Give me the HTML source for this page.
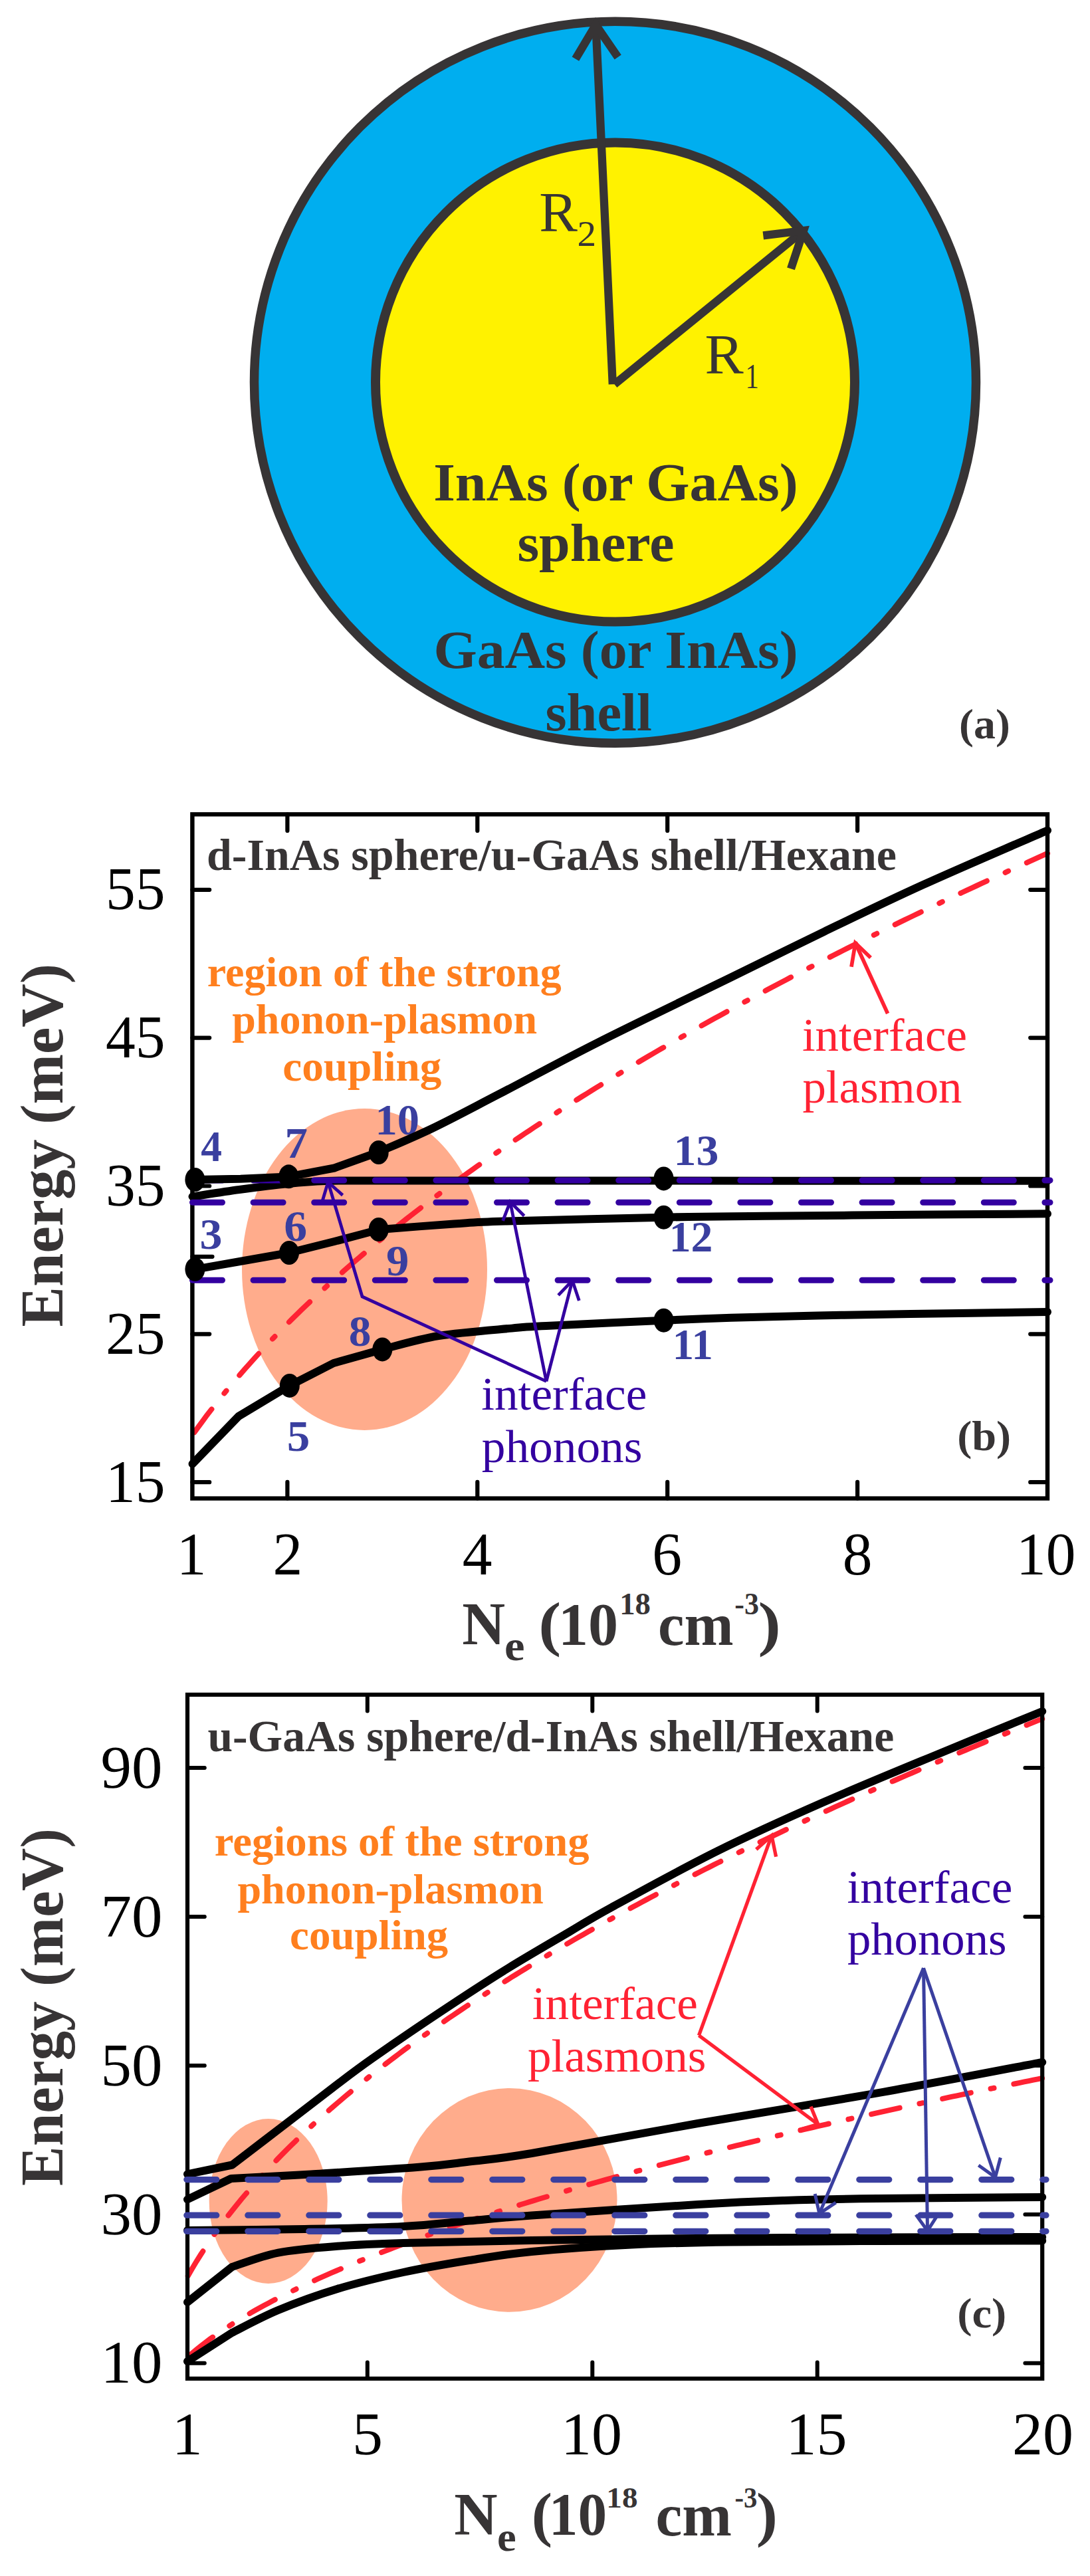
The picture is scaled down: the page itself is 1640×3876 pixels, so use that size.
<!DOCTYPE html>
<html lang="en"><head><meta charset="utf-8"><title>Core-shell nanoparticle: phonon-plasmon coupling</title>
<style>html,body{margin:0;padding:0;background:#fff}body{width:1640px;height:3876px;overflow:hidden}svg{display:block;font-family:'Liberation Serif', 'Times New Roman', serif}</style></head><body>
<svg width="1640" height="3876" viewBox="0 0 1640 3876">
<rect width="1640" height="3876" fill="#fff"/>
<g id="panel-a">
<circle cx="925.5" cy="575.3" r="543" fill="#00AEEF" stroke="#373435" stroke-width="13.5"/>
<circle cx="925.5" cy="575" r="360.5" fill="#FFF200" stroke="#373435" stroke-width="14"/>
<path d="M896.4 36 L921.8 578.3 M924.5 578.2 L1208 347.7" fill="none" stroke="#373435" stroke-width="12.3"/>
<path d="M865.9 88.7 L896.4 37.5 L929.7 86" fill="none" stroke="#373435" stroke-width="12.3" stroke-linejoin="miter" stroke-miterlimit="10"/>
<path d="M1148.3 354.3 L1209 347 L1190 404.4" fill="none" stroke="#373435" stroke-width="12.3" stroke-linejoin="miter" stroke-miterlimit="10"/>
<text fill="#373435" font-weight="normal"><tspan x="811.2" y="348.3" font-size="84" textLength="57.6" lengthAdjust="spacingAndGlyphs">R</tspan><tspan x="868.6" y="369.6" font-size="54" textLength="28.6" lengthAdjust="spacingAndGlyphs">2</tspan></text>
<text fill="#373435" font-weight="normal"><tspan x="1060.6" y="562.4" font-size="84" textLength="58.2" lengthAdjust="spacingAndGlyphs">R</tspan><tspan x="1121.6" y="584" font-size="53" textLength="20.3" lengthAdjust="spacingAndGlyphs">1</tspan></text>
<text transform="translate(652.2 753) scale(1.0358 1)" font-size="81" fill="#373435" font-weight="bold">InAs (or GaAs)</text>
<text transform="translate(778.4 844.3) scale(1.0358 1)" font-size="81" fill="#373435" font-weight="bold">sphere</text>
<text transform="translate(652.4 1005) scale(1.0354 1)" font-size="81" fill="#373435" font-weight="bold">GaAs (or InAs)</text>
<text transform="translate(820.5 1098.5) scale(1.0179 1)" font-size="81" fill="#373435" font-weight="bold">shell</text>
<text transform="translate(1443.1 1111) scale(1.0441 1)" font-size="63" fill="#373435" font-weight="bold">(a)</text>
</g>
<g id="panel-b">
<ellipse cx="548.5" cy="1910" rx="184.5" ry="242" fill="#FFAC8C"/>
<path d="M289.4 2159.6 L296.5 2149.6 L303.7 2139.8 L310.8 2130.2 L318 2120.9 L325.1 2111.8 L332.3 2102.8 L339.4 2094 L346.6 2085.4 L353.7 2076.9 L360.9 2068.6 L368 2060.4 L375.2 2052.3 L382.3 2044.3 L389.5 2036.5 L396.6 2028.8 L403.8 2021.2 L410.9 2013.7 L418.1 2006.3 L425.2 1999 L432.4 1991.8 L439.5 1984.7 L446.7 1977.7 L453.8 1970.7 L460.9 1963.9 L468.1 1957.1 L475.2 1950.4 L482.4 1943.7 L489.5 1937.2 L496.7 1930.7 L503.8 1924.2 L511 1917.9 L518.1 1911.6 L525.3 1905.3 L532.4 1899.1 L539.6 1893 L546.7 1886.9 L553.9 1880.9 L561 1874.9 L568.2 1869 L575.3 1863.1 L582.5 1857.3 L589.6 1851.5 L596.8 1845.8 L603.9 1840.1 L611 1834.5 L618.2 1828.9 L625.3 1823.4 L632.5 1817.8 L639.6 1812.4 L646.8 1806.9 L653.9 1801.6 L661.1 1796.2 L668.2 1790.9 L675.4 1785.6 L682.5 1780.4 L689.7 1775.1 L696.8 1770 L704 1764.8 L711.1 1759.7 L718.3 1754.6 L725.4 1749.6 L732.6 1744.6 L739.7 1739.6 L746.9 1734.6 L754 1729.7 L761.2 1724.8 L768.3 1720 L775.4 1715.1 L782.6 1710.3 L789.7 1705.5 L796.9 1700.8 L804 1696 L811.2 1691.3 L818.3 1686.6 L825.5 1682 L832.6 1677.3 L839.8 1672.7 L846.9 1668.1 L854.1 1663.6 L861.2 1659 L868.4 1654.5 L875.5 1650 L882.7 1645.6 L889.8 1641.1 L897 1636.7 L904.1 1632.3 L911.3 1627.9 L918.4 1623.5 L925.6 1619.2 L932.7 1614.9 L939.8 1610.6 L947 1606.3 L954.1 1602 L961.3 1597.7 L968.4 1593.5 L975.6 1589.3 L982.7 1585.1 L989.9 1580.9 L997 1576.8 L1004.2 1572.6 L1011.3 1568.5 L1018.5 1564.4 L1025.6 1560.3 L1032.8 1556.2 L1039.9 1552.2 L1047.1 1548.1 L1054.2 1544.1 L1061.4 1540.1 L1068.5 1536.1 L1075.7 1532.1 L1082.8 1528.2 L1090 1524.2 L1097.1 1520.3 L1104.2 1516.4 L1111.4 1512.5 L1118.5 1508.6 L1125.7 1504.7 L1132.8 1500.8 L1140 1497 L1147.1 1493.2 L1154.3 1489.3 L1161.4 1485.5 L1168.6 1481.7 L1175.7 1478 L1182.9 1474.2 L1190 1470.4 L1197.2 1466.7 L1204.3 1463 L1211.5 1459.3 L1218.6 1455.6 L1225.8 1451.9 L1232.9 1448.2 L1240.1 1444.5 L1247.2 1440.9 L1254.3 1437.2 L1261.5 1433.6 L1268.6 1430 L1275.8 1426.4 L1282.9 1422.8 L1290.1 1419.2 L1297.2 1415.6 L1304.4 1412.1 L1311.5 1408.5 L1318.7 1405 L1325.8 1401.4 L1333 1397.9 L1340.1 1394.4 L1347.3 1390.9 L1354.4 1387.4 L1361.6 1383.9 L1368.7 1380.5 L1375.9 1377 L1383 1373.6 L1390.2 1370.1 L1397.3 1366.7 L1404.5 1363.3 L1411.6 1359.9 L1418.7 1356.5 L1425.9 1353.1 L1433 1349.7 L1440.2 1346.4 L1447.3 1343 L1454.5 1339.6 L1461.6 1336.3 L1468.8 1333 L1475.9 1329.6 L1483.1 1326.3 L1490.2 1323 L1497.4 1319.7 L1504.5 1316.4 L1511.7 1313.2 L1518.8 1309.9 L1526 1306.6 L1533.1 1303.4 L1540.3 1300.1 L1547.4 1296.9 L1554.6 1293.7 L1561.7 1290.4 L1568.9 1287.2 L1576 1284" fill="none" stroke="#FF2233" stroke-width="8" stroke-linecap="round" stroke-dasharray="43.5 30.5 5 30.5" stroke-dashoffset="104.2"/>
<text transform="translate(302.3 1747.4) scale(0.977 1)" font-size="65" fill="#3A3F9F" font-weight="bold">4</text>
<text transform="translate(428.4 1742) scale(1.0606 1)" font-size="65" fill="#3A3F9F" font-weight="bold">7</text>
<text transform="translate(564.6 1707) scale(1.0236 1)" font-size="65" fill="#3A3F9F" font-weight="bold">10</text>
<text transform="translate(300.4 1878.7) scale(1.045 1)" font-size="65" fill="#3A3F9F" font-weight="bold">3</text>
<text transform="translate(427.3 1867) scale(1.0726 1)" font-size="65" fill="#3A3F9F" font-weight="bold">6</text>
<text transform="translate(581.1 1919) scale(1.0596 1)" font-size="65" fill="#3A3F9F" font-weight="bold">9</text>
<text transform="translate(524.7 2024.9) scale(1.0357 1)" font-size="65" fill="#3A3F9F" font-weight="bold">8</text>
<text transform="translate(431.7 2182.6) scale(1.0631 1)" font-size="65" fill="#3A3F9F" font-weight="bold">5</text>
<text transform="translate(1013.5 1752.8) scale(1.0435 1)" font-size="65" fill="#3A3F9F" font-weight="bold">13</text>
<text transform="translate(1006.7 1882.6) scale(1.0123 1)" font-size="65" fill="#3A3F9F" font-weight="bold">12</text>
<text transform="translate(1011.8 2045) scale(0.9943 1)" font-size="65" fill="#3A3F9F" font-weight="bold">11</text>
<rect x="289.4" y="1225.3" width="1286.6" height="1029.3" fill="none" stroke="#000" stroke-width="6.4"/>
<path d="M432.4 1225.3 V1250 M432.4 2254.6 V2229.9 M718.3 1225.3 V1250 M718.3 2254.6 V2229.9 M1004.2 1225.3 V1250 M1004.2 2254.6 V2229.9 M1290.1 1225.3 V1250 M1290.1 2254.6 V2229.9 M289.4 1338.8 H315.2 M1576 1338.8 H1550.2 M289.4 1561.6 H315.2 M1576 1561.6 H1550.2 M289.4 1784.5 H315.2 M1576 1784.5 H1550.2 M289.4 2007.3 H315.2 M1576 2007.3 H1550.2 M289.4 2230.2 H315.2 M1576 2230.2 H1550.2 M289.4 1890.8 H319.5" fill="none" stroke="#000" stroke-width="6.2" stroke-linecap="round"/>
<path d="M289.5 1800.5 C301.2 1798.8 335.9 1793.2 360 1790 C384.1 1786.8 412.3 1783.2 434 1781 C455.7 1778.8 467.5 1777.8 490 1777 C512.5 1776.2 517.3 1776.6 569 1776.5 C620.7 1776.4 632.2 1776.5 800 1776.5 C967.8 1776.5 1446.7 1776.8 1576 1776.8" fill="none" stroke="#000" stroke-width="12" stroke-linecap="round" stroke-linejoin="round"/>
<path d="M289.5 1776 H1580" fill="none" stroke="#3300A0" stroke-width="9" stroke-linecap="round" stroke-dasharray="45 46.6"/>
<path d="M289.5 1809.2 H1580" fill="none" stroke="#3300A0" stroke-width="9" stroke-linecap="round" stroke-dasharray="45 46.6"/>
<path d="M289.5 1926.3 H1580" fill="none" stroke="#3300A0" stroke-width="9" stroke-linecap="round" stroke-dasharray="45 46.6"/>
<path d="M293 1775 L362 1773.8 L434.3 1770.5 L503 1757.5 L569.6 1733.5 C583 1727.6 619.9 1712.5 650 1698 C680.1 1683.5 708.3 1668.3 750 1646.7 C791.7 1625.1 841.7 1597.7 900 1568.3 C958.3 1538.9 1043.3 1498.2 1100 1470.5 C1156.7 1442.8 1191.7 1425.1 1240 1401.8 C1288.3 1378.5 1334 1356.2 1390 1330.8 C1446 1305.4 1545 1263 1576 1249.5" fill="none" stroke="#000" stroke-width="12" stroke-linecap="round" stroke-linejoin="round"/>
<path d="M293.4 1909.8 L364 1897.5 L435 1885 L503 1868 L571 1850 C589.7 1848.6 651.5 1843.6 683 1841.5 C714.5 1839.4 707.4 1839.1 760 1837.5 C812.6 1835.9 933.6 1833 998.6 1831.7 C1063.6 1830.4 1088.1 1830.5 1150 1829.8 C1211.9 1829.1 1299 1828.4 1370 1827.8 C1441 1827.2 1541.7 1826.5 1576 1826.3" fill="none" stroke="#000" stroke-width="12" stroke-linecap="round" stroke-linejoin="round"/>
<path d="M289.5 2202.7 L359 2131 L435.8 2084.9 L502 2051 L575.3 2030.4 C589.4 2027 627.5 2015.3 660 2010 C692.5 2004.7 743 2001.1 770 1998.6 C797 1996.1 783.9 1997 822 1995 C860.1 1993 952.3 1988.7 998.6 1986.7 C1044.9 1984.7 1061.4 1984 1100 1982.8 C1138.6 1981.6 1185 1980.5 1230 1979.5 C1275 1978.5 1312.3 1977.9 1370 1977 C1427.7 1976.1 1541.7 1974.5 1576 1974" fill="none" stroke="#000" stroke-width="12" stroke-linecap="round" stroke-linejoin="round"/>
<ellipse cx="293.4" cy="1775" rx="15" ry="18" fill="#000"/>
<ellipse cx="434.3" cy="1770.3" rx="15" ry="18" fill="#000"/>
<ellipse cx="569.7" cy="1734" rx="15" ry="18" fill="#000"/>
<ellipse cx="293.4" cy="1909.8" rx="15" ry="18" fill="#000"/>
<ellipse cx="435" cy="1885" rx="15" ry="18" fill="#000"/>
<ellipse cx="569.7" cy="1850" rx="15" ry="18" fill="#000"/>
<ellipse cx="435.8" cy="2084.9" rx="15" ry="18" fill="#000"/>
<ellipse cx="575.3" cy="2030.4" rx="15" ry="18" fill="#000"/>
<ellipse cx="998.6" cy="1773.4" rx="15" ry="18" fill="#000"/>
<ellipse cx="998.6" cy="1831.7" rx="15" ry="18" fill="#000"/>
<ellipse cx="998.6" cy="1986.7" rx="15" ry="18" fill="#000"/>
<text transform="translate(158.9 1368.3) scale(0.973 1)" font-size="92" fill="#000" font-weight="normal">55</text>
<text transform="translate(158.9 1591.1) scale(0.973 1)" font-size="92" fill="#000" font-weight="normal">45</text>
<text transform="translate(158.9 1814) scale(0.973 1)" font-size="92" fill="#000" font-weight="normal">35</text>
<text transform="translate(158.9 2036.8) scale(0.973 1)" font-size="92" fill="#000" font-weight="normal">25</text>
<text transform="translate(158.9 2259.7) scale(0.973 1)" font-size="92" fill="#000" font-weight="normal">15</text>
<text transform="translate(265.8 2369) scale(0.973 1)" font-size="92" fill="#000" font-weight="normal">1</text>
<text transform="translate(410.5 2369) scale(0.973 1)" font-size="92" fill="#000" font-weight="normal">2</text>
<text transform="translate(695.8 2369) scale(0.973 1)" font-size="92" fill="#000" font-weight="normal">4</text>
<text transform="translate(981.2 2369) scale(0.973 1)" font-size="92" fill="#000" font-weight="normal">6</text>
<text transform="translate(1267.7 2369) scale(0.973 1)" font-size="92" fill="#000" font-weight="normal">8</text>
<text transform="translate(1529.1 2369) scale(0.973 1)" font-size="92" fill="#000" font-weight="normal">10</text>
<text transform="translate(94 1996.5) rotate(-90) scale(0.9859 1)" font-size="92" fill="#373435" font-weight="bold">Energy (meV)</text>
<text fill="#373435" font-weight="bold"><tspan x="695.3" y="2474" font-size="91" textLength="64.9" lengthAdjust="spacingAndGlyphs">N</tspan><tspan x="759.1" y="2498" font-size="63" textLength="30.5" lengthAdjust="spacingAndGlyphs">e</tspan><tspan x="784.8" y="2474" font-size="92" textLength="59.4" lengthAdjust="spacingAndGlyphs"> (</tspan><tspan x="839.9" y="2474.5" font-size="92" textLength="90.1" lengthAdjust="spacingAndGlyphs">10</tspan><tspan x="932.2" y="2428.5" font-size="46" textLength="46.8" lengthAdjust="spacingAndGlyphs">18</tspan><tspan x="967.9" y="2475" font-size="92" textLength="135.8" lengthAdjust="spacingAndGlyphs"> cm</tspan><tspan x="1105.3" y="2428.5" font-size="46" textLength="36.7" lengthAdjust="spacingAndGlyphs">-3</tspan><tspan x="1140.6" y="2474" font-size="92" textLength="34.3" lengthAdjust="spacingAndGlyphs">)</tspan></text>
<text transform="translate(311 1309) scale(1.0153 1)" font-size="67" fill="#373435" font-weight="bold">d-InAs sphere/u-GaAs shell/Hexane</text>
<text transform="translate(311.8 1484) scale(1.0006 1)" font-size="64" fill="#FF7F1E" font-weight="bold">region of the strong</text>
<text transform="translate(349.2 1555.3) scale(1.0005 1)" font-size="64" fill="#FF7F1E" font-weight="bold">phonon-plasmon</text>
<text transform="translate(425.2 1626) scale(1.0194 1)" font-size="64" fill="#FF7F1E" font-weight="bold">coupling</text>
<path d="M1335.6 1525 L1287 1419" fill="none" stroke="#FF2233" stroke-width="5.7" stroke-linejoin="miter" stroke-linecap="butt"/><path d="M1281 1454.7 L1287 1419 L1310 1441" fill="none" stroke="#FF2233" stroke-width="5.7" stroke-linejoin="miter" stroke-miterlimit="10" stroke-linecap="butt"/>
<text transform="translate(1206.9 1580.6) scale(1.0137 1)" font-size="70" fill="#FF2233" font-weight="normal">interface</text>
<text transform="translate(1207.4 1659.4) scale(1.0125 1)" font-size="70" fill="#FF2233" font-weight="normal">plasmon</text>
<path d="M822 2078.4 L545 1951 L493.6 1778.6" fill="none" stroke="#3300A0" stroke-width="4.8" stroke-linejoin="miter" stroke-linecap="butt"/><path d="M485.5 1805.8 L493.6 1778.6 L515.6 1798.4" fill="none" stroke="#3300A0" stroke-width="4.8" stroke-linejoin="miter" stroke-miterlimit="10" stroke-linecap="butt"/>
<path d="M822 2078.4 L767.6 1808.4" fill="none" stroke="#3300A0" stroke-width="4.8" stroke-linejoin="miter" stroke-linecap="butt"/><path d="M756.6 1836.9 L767.6 1808.4 L788.7 1829.5" fill="none" stroke="#3300A0" stroke-width="4.8" stroke-linejoin="miter" stroke-miterlimit="10" stroke-linecap="butt"/>
<path d="M822 2078.4 L861.2 1926.8" fill="none" stroke="#3300A0" stroke-width="4.8" stroke-linejoin="miter" stroke-linecap="butt"/><path d="M840 1948.8 L861.2 1926.8 L871.3 1957" fill="none" stroke="#3300A0" stroke-width="4.8" stroke-linejoin="miter" stroke-miterlimit="10" stroke-linecap="butt"/>
<text transform="translate(724.2 2121) scale(1.0178 1)" font-size="70" fill="#3300A0" font-weight="normal">interface</text>
<text transform="translate(724.7 2200) scale(1.0195 1)" font-size="70" fill="#3300A0" font-weight="normal">phonons</text>
<text transform="translate(1440.2 2182.2) scale(1.0436 1)" font-size="63.5" fill="#373435" font-weight="bold">(b)</text>
</g>
<g id="panel-c">
<ellipse cx="403.7" cy="3312" rx="89" ry="124" fill="#FFAC8C"/>
<ellipse cx="766.5" cy="3310.4" rx="162" ry="168.4" fill="#FFAC8C"/>
<path d="M282 3425.9 L288.8 3414.1 L295.5 3402.8 L302.3 3392 L309.1 3381.6 L315.8 3371.6 L322.6 3361.8 L329.4 3352.4 L336.2 3343.3 L342.9 3334.4 L349.7 3325.7 L356.5 3317.3 L363.2 3309 L370 3301 L376.8 3293.1 L383.5 3285.4 L390.3 3277.8 L397.1 3270.4 L403.9 3263.1 L410.6 3255.9 L417.4 3248.9 L424.2 3241.9 L430.9 3235.1 L437.7 3228.4 L444.5 3221.8 L451.2 3215.3 L458 3208.9 L464.8 3202.6 L471.5 3196.3 L478.3 3190.2 L485.1 3184.1 L491.9 3178.1 L498.6 3172.1 L505.4 3166.3 L512.2 3160.5 L518.9 3154.7 L525.7 3149.1 L532.5 3143.5 L539.2 3137.9 L546 3132.4 L552.8 3127 L559.5 3121.6 L566.3 3116.3 L573.1 3111 L579.9 3105.8 L586.6 3100.6 L593.4 3095.5 L600.2 3090.4 L606.9 3085.3 L613.7 3080.3 L620.5 3075.4 L627.2 3070.5 L634 3065.6 L640.8 3060.7 L647.6 3055.9 L654.3 3051.2 L661.1 3046.5 L667.9 3041.8 L674.6 3037.1 L681.4 3032.5 L688.2 3027.9 L694.9 3023.4 L701.7 3018.8 L708.5 3014.3 L715.2 3009.9 L722 3005.5 L728.8 3001.1 L735.6 2996.7 L742.3 2992.3 L749.1 2988 L755.9 2983.7 L762.6 2979.5 L769.4 2975.2 L776.2 2971 L782.9 2966.8 L789.7 2962.7 L796.5 2958.5 L803.2 2954.4 L810 2950.3 L816.8 2946.3 L823.6 2942.2 L830.3 2938.2 L837.1 2934.2 L843.9 2930.2 L850.6 2926.3 L857.4 2922.4 L864.2 2918.4 L870.9 2914.6 L877.7 2910.7 L884.5 2906.8 L891.3 2903 L898 2899.2 L904.8 2895.4 L911.6 2891.6 L918.3 2887.9 L925.1 2884.1 L931.9 2880.4 L938.6 2876.7 L945.4 2873 L952.2 2869.3 L958.9 2865.7 L965.7 2862 L972.5 2858.4 L979.3 2854.8 L986 2851.2 L992.8 2847.6 L999.6 2844.1 L1006.3 2840.5 L1013.1 2837 L1019.9 2833.5 L1026.6 2830 L1033.4 2826.5 L1040.2 2823.1 L1047 2819.6 L1053.7 2816.2 L1060.5 2812.7 L1067.3 2809.3 L1074 2805.9 L1080.8 2802.5 L1087.6 2799.2 L1094.3 2795.8 L1101.1 2792.4 L1107.9 2789.1 L1114.6 2785.8 L1121.4 2782.5 L1128.2 2779.2 L1135 2775.9 L1141.7 2772.6 L1148.5 2769.4 L1155.3 2766.1 L1162 2762.9 L1168.8 2759.7 L1175.6 2756.4 L1182.3 2753.2 L1189.1 2750 L1195.9 2746.9 L1202.6 2743.7 L1209.4 2740.5 L1216.2 2737.4 L1223 2734.2 L1229.7 2731.1 L1236.5 2728 L1243.3 2724.9 L1250 2721.8 L1256.8 2718.7 L1263.6 2715.6 L1270.3 2712.6 L1277.1 2709.5 L1283.9 2706.5 L1290.7 2703.4 L1297.4 2700.4 L1304.2 2697.4 L1311 2694.4 L1317.7 2691.4 L1324.5 2688.4 L1331.3 2685.4 L1338 2682.4 L1344.8 2679.5 L1351.6 2676.5 L1358.3 2673.6 L1365.1 2670.6 L1371.9 2667.7 L1378.7 2664.8 L1385.4 2661.9 L1392.2 2659 L1399 2656.1 L1405.7 2653.2 L1412.5 2650.3 L1419.3 2647.4 L1426 2644.6 L1432.8 2641.7 L1439.6 2638.9 L1446.3 2636 L1453.1 2633.2 L1459.9 2630.4 L1466.7 2627.6 L1473.4 2624.8 L1480.2 2622 L1487 2619.2 L1493.7 2616.4 L1500.5 2613.6 L1507.3 2610.8 L1514 2608.1 L1520.8 2605.3 L1527.6 2602.6 L1534.4 2599.8 L1541.1 2597.1 L1547.9 2594.4 L1554.7 2591.6 L1561.4 2588.9 L1568.2 2586.2" fill="none" stroke="#FF2233" stroke-width="8" stroke-linecap="round" stroke-dasharray="43.5 30.5 5 30.5" stroke-dashoffset="107.9"/>
<path d="M282 3546.8 L288.8 3540.9 L295.5 3535.3 L302.3 3529.9 L309.1 3524.7 L315.8 3519.6 L322.6 3514.8 L329.4 3510.1 L336.2 3505.5 L342.9 3501.1 L349.7 3496.7 L356.5 3492.5 L363.2 3488.4 L370 3484.4 L376.8 3480.4 L383.5 3476.6 L390.3 3472.8 L397.1 3469.1 L403.9 3465.4 L410.6 3461.8 L417.4 3458.3 L424.2 3454.8 L430.9 3451.4 L437.7 3448.1 L444.5 3444.8 L451.2 3441.5 L458 3438.3 L464.8 3435.2 L471.5 3432 L478.3 3428.9 L485.1 3425.9 L491.9 3422.9 L498.6 3419.9 L505.4 3417 L512.2 3414.1 L518.9 3411.2 L525.7 3408.4 L532.5 3405.6 L539.2 3402.8 L546 3400.1 L552.8 3397.4 L559.5 3394.7 L566.3 3392 L573.1 3389.4 L579.9 3386.8 L586.6 3384.2 L593.4 3381.6 L600.2 3379.1 L606.9 3376.5 L613.7 3374 L620.5 3371.6 L627.2 3369.1 L634 3366.7 L640.8 3364.2 L647.6 3361.8 L654.3 3359.5 L661.1 3357.1 L667.9 3354.8 L674.6 3352.4 L681.4 3350.1 L688.2 3347.8 L694.9 3345.5 L701.7 3343.3 L708.5 3341 L715.2 3338.8 L722 3336.6 L728.8 3334.4 L735.6 3332.2 L742.3 3330 L749.1 3327.9 L755.9 3325.7 L762.6 3323.6 L769.4 3321.5 L776.2 3319.4 L782.9 3317.3 L789.7 3315.2 L796.5 3313.1 L803.2 3311.1 L810 3309 L816.8 3307 L823.6 3305 L830.3 3303 L837.1 3301 L843.9 3299 L850.6 3297 L857.4 3295 L864.2 3293.1 L870.9 3291.1 L877.7 3289.2 L884.5 3287.3 L891.3 3285.4 L898 3283.5 L904.8 3281.6 L911.6 3279.7 L918.3 3277.8 L925.1 3275.9 L931.9 3274.1 L938.6 3272.2 L945.4 3270.4 L952.2 3268.5 L958.9 3266.7 L965.7 3264.9 L972.5 3263.1 L979.3 3261.3 L986 3259.5 L992.8 3257.7 L999.6 3255.9 L1006.3 3254.1 L1013.1 3252.4 L1019.9 3250.6 L1026.6 3248.9 L1033.4 3247.1 L1040.2 3245.4 L1047 3243.7 L1053.7 3241.9 L1060.5 3240.2 L1067.3 3238.5 L1074 3236.8 L1080.8 3235.1 L1087.6 3233.4 L1094.3 3231.8 L1101.1 3230.1 L1107.9 3228.4 L1114.6 3226.8 L1121.4 3225.1 L1128.2 3223.5 L1135 3221.8 L1141.7 3220.2 L1148.5 3218.6 L1155.3 3216.9 L1162 3215.3 L1168.8 3213.7 L1175.6 3212.1 L1182.3 3210.5 L1189.1 3208.9 L1195.9 3207.3 L1202.6 3205.7 L1209.4 3204.1 L1216.2 3202.6 L1223 3201 L1229.7 3199.4 L1236.5 3197.9 L1243.3 3196.3 L1250 3194.8 L1256.8 3193.2 L1263.6 3191.7 L1270.3 3190.2 L1277.1 3188.6 L1283.9 3187.1 L1290.7 3185.6 L1297.4 3184.1 L1304.2 3182.6 L1311 3181.1 L1317.7 3179.6 L1324.5 3178.1 L1331.3 3176.6 L1338 3175.1 L1344.8 3173.6 L1351.6 3172.1 L1358.3 3170.7 L1365.1 3169.2 L1371.9 3167.7 L1378.7 3166.3 L1385.4 3164.8 L1392.2 3163.4 L1399 3161.9 L1405.7 3160.5 L1412.5 3159 L1419.3 3157.6 L1426 3156.2 L1432.8 3154.7 L1439.6 3153.3 L1446.3 3151.9 L1453.1 3150.5 L1459.9 3149.1 L1466.7 3147.7 L1473.4 3146.3 L1480.2 3144.9 L1487 3143.5 L1493.7 3142.1 L1500.5 3140.7 L1507.3 3139.3 L1514 3137.9 L1520.8 3136.5 L1527.6 3135.2 L1534.4 3133.8 L1541.1 3132.4 L1547.9 3131.1 L1554.7 3129.7 L1561.4 3128.3 L1568.2 3127" fill="none" stroke="#FF2233" stroke-width="8" stroke-linecap="round" stroke-dasharray="43.5 30.5 5 30.5" stroke-dashoffset="104.4"/>
<rect x="282" y="2549.9" width="1286.2" height="1029.1" fill="none" stroke="#000" stroke-width="6.2"/>
<path d="M552.8 2549.9 V2574.4 M552.8 3579 V3554.5 M891.3 2549.9 V2574.4 M891.3 3579 V3554.5 M1229.7 2549.9 V2574.4 M1229.7 3579 V3554.5 M282 2660.1 H307.8 M1568.2 2660.1 H1542.4 M282 2884 H307.8 M1568.2 2884 H1542.4 M282 3107.9 H307.8 M1568.2 3107.9 H1542.4 M282 3331.9 H307.8 M1568.2 3331.9 H1542.4 M282 3555.8 H307.8 M1568.2 3555.8 H1542.4" fill="none" stroke="#000" stroke-width="6" stroke-linecap="round"/>
<path d="M282 3271.4 L349.3 3257.5  C361.9 3247.8 399.7 3218.9 425 3199.5 C450.3 3180.1 478.7 3157.9 501.2 3140.9 C523.7 3123.9 533.7 3115.9 560 3097.4 C586.3 3078.9 626 3051.7 659 3029.7 C692 3007.7 725.2 2985.8 758.2 2965.3 C791.2 2944.8 830.2 2922.4 857.2 2906.5 C884.2 2890.6 882.9 2890.3 920 2870 C957.1 2849.7 1026.7 2811.3 1080 2784.9 C1133.3 2758.5 1183.3 2736.2 1240 2711.3 C1296.7 2686.4 1365.3 2658.4 1420 2635.7 C1474.7 2613 1543.5 2585.1 1568.2 2575" fill="none" stroke="#000" stroke-width="12" stroke-linecap="round" stroke-linejoin="round"/>
<path d="M282 3309.3 L347.6 3278  C367.7 3276.9 420.9 3274.3 468 3271.4 C515.1 3268.5 590.4 3264 630 3260.8 C669.6 3257.7 677.6 3256 705.9 3252.5 C734.2 3249 742.6 3249.6 800 3240 C857.4 3230.4 963.3 3210.1 1050 3195 C1136.7 3179.9 1233.6 3164.8 1320 3149.4 C1406.4 3134.1 1526.8 3110.7 1568.2 3102.9" fill="none" stroke="#000" stroke-width="12" stroke-linecap="round" stroke-linejoin="round"/>
<path d="M282 3464 L349 3411  C360.6 3407.4 392.1 3394.8 418.5 3389.6 C444.9 3384.4 476.3 3382.1 507.7 3379.7 C539.1 3377.3 558.1 3376.4 606.8 3375 C655.5 3373.6 726.1 3372.2 800 3371 C873.9 3369.8 963.3 3368.8 1050 3368 C1136.7 3367.2 1233.6 3366.8 1320 3366.5 C1406.4 3366.2 1526.8 3366.1 1568.2 3366" fill="none" stroke="#000" stroke-width="12" stroke-linecap="round" stroke-linejoin="round"/>
<path d="M282 3553 L349 3510  C360.6 3504.3 392.1 3487 418.5 3476 C444.9 3465 476.3 3453.5 507.7 3444 C539.1 3434.5 573.8 3426.2 606.8 3419 C639.8 3411.8 673.7 3406.2 705.9 3401 C738.1 3395.8 759.3 3391.9 800 3388 C840.7 3384.1 900 3379.9 950 3377.5 C1000 3375.1 1038.3 3374.4 1100 3373.5 C1161.7 3372.6 1242 3372.3 1320 3372 C1398 3371.7 1526.8 3371.6 1568.2 3371.5" fill="none" stroke="#000" stroke-width="12" stroke-linecap="round" stroke-linejoin="round"/>
<path d="M282 3356 C311.3 3355.7 403.9 3355 458 3354 C512.1 3353 565.5 3352.1 606.8 3350 C648.1 3347.9 673.7 3344.3 705.9 3341.6 C738.1 3338.8 742.6 3337.6 800 3333.5 C857.4 3329.4 986.7 3320.8 1050 3317 C1113.3 3313.2 1135 3312.5 1180 3311 C1225 3309.5 1255.3 3308.8 1320 3308 C1384.7 3307.2 1526.8 3306.3 1568.2 3306" fill="none" stroke="#000" stroke-width="12" stroke-linecap="round" stroke-linejoin="round"/>
<path d="M280.8 3279.6 H1574" fill="none" stroke="#3A3F9F" stroke-width="9.2" stroke-linecap="round" stroke-dasharray="45 47"/>
<path d="M280.8 3333.2 H1574" fill="none" stroke="#3A3F9F" stroke-width="9.2" stroke-linecap="round" stroke-dasharray="45 47"/>
<path d="M280.8 3357.3 H1574" fill="none" stroke="#3A3F9F" stroke-width="9.2" stroke-linecap="round" stroke-dasharray="45 47"/>
<text transform="translate(151.6 2689.7) scale(1.01 1)" font-size="92" fill="#000" font-weight="normal">90</text>
<text transform="translate(151.6 2913.6) scale(1.01 1)" font-size="92" fill="#000" font-weight="normal">70</text>
<text transform="translate(151.6 3137.5) scale(1.01 1)" font-size="92" fill="#000" font-weight="normal">50</text>
<text transform="translate(151.6 3361.5) scale(1.01 1)" font-size="92" fill="#000" font-weight="normal">30</text>
<text transform="translate(151.6 3585.4) scale(1.01 1)" font-size="92" fill="#000" font-weight="normal">10</text>
<text transform="translate(258.8 3692.5) scale(1 1)" font-size="92" fill="#000" font-weight="normal">1</text>
<text transform="translate(529.9 3692.5) scale(1 1)" font-size="92" fill="#000" font-weight="normal">5</text>
<text transform="translate(844 3692.5) scale(1 1)" font-size="92" fill="#000" font-weight="normal">10</text>
<text transform="translate(1182.5 3692.5) scale(1 1)" font-size="92" fill="#000" font-weight="normal">15</text>
<text transform="translate(1523 3692.5) scale(1 1)" font-size="92" fill="#000" font-weight="normal">20</text>
<text transform="translate(94 3288.9) rotate(-90) scale(0.9809 1)" font-size="91" fill="#373435" font-weight="bold">Energy (meV)</text>
<text fill="#373435" font-weight="bold"><tspan x="683.2" y="3813.6" font-size="90" textLength="65.3" lengthAdjust="spacingAndGlyphs">N</tspan><tspan x="747.9" y="3837.8" font-size="62" textLength="28.7" lengthAdjust="spacingAndGlyphs">e</tspan><tspan x="776.3" y="3813.6" font-size="90" textLength="54.8" lengthAdjust="spacingAndGlyphs"> (</tspan><tspan x="825.7" y="3814" font-size="90" textLength="87.4" lengthAdjust="spacingAndGlyphs">10</tspan><tspan x="912.3" y="3773.4" font-size="45" textLength="47.2" lengthAdjust="spacingAndGlyphs">18</tspan><tspan x="964.1" y="3814.5" font-size="90" textLength="136.9" lengthAdjust="spacingAndGlyphs"> cm</tspan><tspan x="1105.4" y="3773.4" font-size="45" textLength="33.9" lengthAdjust="spacingAndGlyphs">-3</tspan><tspan x="1137.8" y="3813.6" font-size="90" textLength="32.2" lengthAdjust="spacingAndGlyphs">)</tspan></text>
<text transform="translate(312.4 2634.8) scale(1.0103 1)" font-size="67" fill="#373435" font-weight="bold">u-GaAs sphere/d-InAs shell/Hexane</text>
<text transform="translate(322.7 2791.7) scale(1.0117 1)" font-size="64" fill="#FF7F1E" font-weight="bold">regions of the strong</text>
<text transform="translate(357.4 2863.5) scale(1.0034 1)" font-size="64" fill="#FF7F1E" font-weight="bold">phonon-plasmon</text>
<text transform="translate(436.1 2932.8) scale(1.0147 1)" font-size="64" fill="#FF7F1E" font-weight="bold">coupling</text>
<path d="M1051.5 3062.6 L1161 2762" fill="none" stroke="#FF2233" stroke-width="5.3" stroke-linejoin="miter" stroke-linecap="butt"/><path d="M1137.8 2782.8 L1161 2762 L1167.6 2793.8" fill="none" stroke="#FF2233" stroke-width="5.3" stroke-linejoin="miter" stroke-miterlimit="10" stroke-linecap="butt"/>
<path d="M1051.5 3062.6 L1230.8 3196.4" fill="none" stroke="#FF2233" stroke-width="5.3" stroke-linejoin="miter" stroke-linecap="butt"/><path d="M1220 3169.8 L1230.8 3196.4 L1201.6 3204.9" fill="none" stroke="#FF2233" stroke-width="5.3" stroke-linejoin="miter" stroke-miterlimit="10" stroke-linecap="butt"/>
<text transform="translate(800.8 3037.8) scale(1.0174 1)" font-size="70" fill="#FF2233" font-weight="normal">interface</text>
<text transform="translate(794 3117) scale(1.0153 1)" font-size="70" fill="#FF2233" font-weight="normal">plasmons</text>
<path d="M1389.5 2961.3 L1232.8 3330.7" fill="none" stroke="#3A3F9F" stroke-width="5" stroke-linejoin="miter" stroke-linecap="butt"/><path d="M1226.2 3301 L1232.8 3330.7 L1257.6 3314.2" fill="none" stroke="#3A3F9F" stroke-width="5" stroke-linejoin="miter" stroke-miterlimit="10" stroke-linecap="butt"/>
<path d="M1389.5 2961.3 L1395.5 3356.5" fill="none" stroke="#3A3F9F" stroke-width="5" stroke-linejoin="miter" stroke-linecap="butt"/><path d="M1378 3332.4 L1395.5 3356.5 L1411 3332.4" fill="none" stroke="#3A3F9F" stroke-width="5" stroke-linejoin="miter" stroke-miterlimit="10" stroke-linecap="butt"/>
<path d="M1389.5 2961.3 L1497.5 3276" fill="none" stroke="#3A3F9F" stroke-width="5" stroke-linejoin="miter" stroke-linecap="butt"/><path d="M1472.3 3258 L1497.5 3276 L1505.3 3246.5" fill="none" stroke="#3A3F9F" stroke-width="5" stroke-linejoin="miter" stroke-miterlimit="10" stroke-linecap="butt"/>
<text transform="translate(1274.4 2863) scale(1.017 1)" font-size="70" fill="#3300A0" font-weight="normal">interface</text>
<text transform="translate(1274.9 2941) scale(1.0101 1)" font-size="70" fill="#3300A0" font-weight="normal">phonons</text>
<text transform="translate(1440.2 3502.4) scale(1.0508 1)" font-size="63.5" fill="#373435" font-weight="bold">(c)</text>
</g>
</svg></body></html>
